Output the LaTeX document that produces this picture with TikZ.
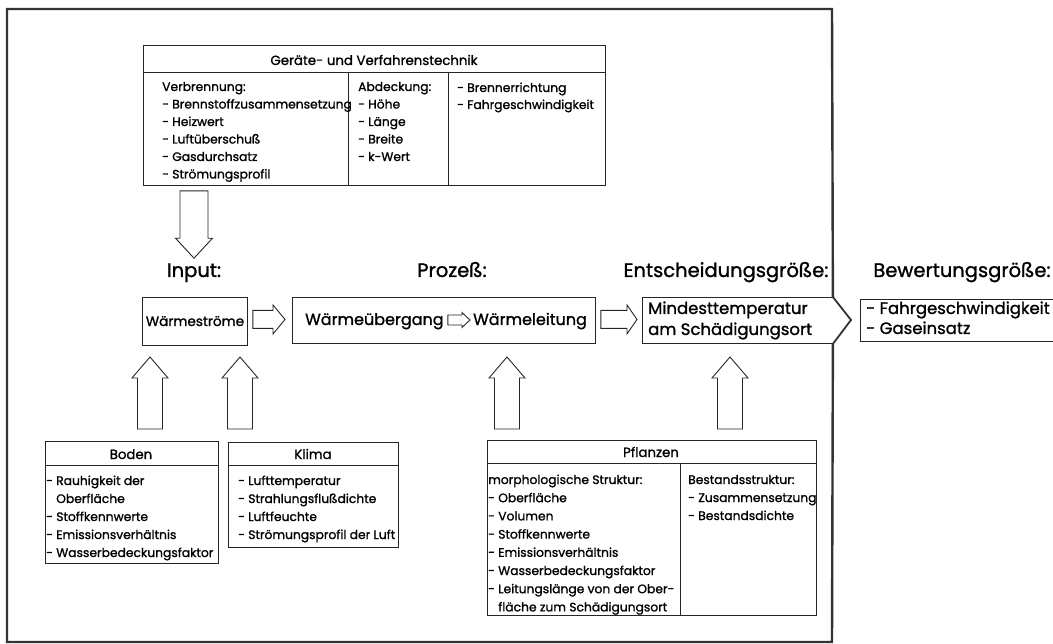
\documentclass[tikz,border=0pt]{standalone}
\usepackage{fontspec}
\setmainfont{Poppins}[FakeBold=1.2]
\usetikzlibrary{calc}

% hollow block arrow: tail, tip, shaft half-width, head half-width, head length
\newcommand\blockarrow[5]{%
  \coordinate (ba-h) at ($(#2)!#5!(#1)$);
  \draw[fatline] ($(#1)!#3!90:(#2)$) -- ($(ba-h)!#3!-90:(#1)$)
    -- ($(ba-h)!#4!-90:(#1)$) -- (#2) -- ($(ba-h)!#4!90:(#1)$)
    -- ($(ba-h)!#3!90:(#1)$) -- ($(#1)!#3!-90:(#2)$) -- cycle;}

\begin{document}
\begin{tikzpicture}[x=1pt,y=-1pt,
  thinline/.style={line width=0.9pt, draw=black!85},
  fatline/.style={line width=0.9pt, draw=black!85, line join=miter},
  cell/.style={thinline, rectangle, inner sep=0pt, anchor=north west},
  item/.style={anchor=base west, inner sep=0pt, font=\fontsize{12.3}{15}\selectfont},
  head/.style={anchor=base, inner sep=0pt, font=\fontsize{13.3}{16}\selectfont},
  stage/.style={anchor=base, inner sep=0pt, font=\fontsize{19.5}{22}\selectfont},
  rowtext/.style={anchor=base west, inner sep=0pt, font=\fontsize{16}{18}\selectfont},
  bigrow/.style={anchor=base west, inner sep=0pt, font=\fontsize{16.5}{20}\selectfont},
  frame/.style={line width=2.4pt, draw=black!80},
]
\useasboundingbox (0,0) rectangle (1053,644);
\clip (0,0) rectangle (1053,644);

% ---- decision box, whose pointed end is part of the outer frame
\node[cell, draw=none, minimum width=190pt, minimum height=46pt] (mindest) at (642,297) {};
\coordinate (mtip) at (851,320);
\draw[thinline] (mindest.north east) -- (mindest.north west) -- (mindest.south west) -- (mindest.south east);
\draw[frame, line width=1.8pt, line join=miter] (mindest.north east) -- (mtip) -- (mindest.south east);
\draw[frame] (mindest.north east) -- (832,9) -- (7,9) -- (7,642) -- (832,642) -- (mindest.south east);
\node[bigrow] (mindest-1) at (648,314) {Mindesttemperatur};
\node[bigrow] (mindest-2) at (648,335) {am Schädigungsort};

% ---- equipment and procedure table
\node[cell, minimum width=462pt, minimum height=27pt] (gtitle) at (143,45) {};
\node[cell, minimum width=205pt, minimum height=113pt] (g1) at (143,72) {};
\node[cell, minimum width=100pt, minimum height=113pt] (g2) at (348,72) {};
\node[cell, minimum width=157pt, minimum height=113pt] (g3) at (448,72) {};
\node[head] (gtitle-t) at (374,65) {Geräte- und Verfahrenstechnik};
\foreach \t [count=\i] in {Verbrennung:, - Brennstoffzusammensetzung, - Heizwert,
    - Luftüberschuß, - Gasdurchsatz, - Strömungsprofil}
  \node[item] (g1-\i) at (162,{91+17.5*(\i-1)}) {\t};
\foreach \t [count=\i] in {Abdeckung:, - Höhe, - Länge, - Breite, - k-Wert}
  \node[item] (g2-\i) at (358,{91+17.5*(\i-1)}) {\t};
\foreach \t [count=\i] in {- Brennerrichtung, - Fahrgeschwindigkeit}
  \node[item] (g3-\i) at (457,{92+17*(\i-1)}) {\t};

% ---- stage headings
\node[stage] (input) at (194,277) {Input:};
\node[stage] (prozess-h) at (452,277) {Prozeß:};
\node[stage] (entsch) at (726,277) {Entscheidungsgröße:};
\node[stage] (bewert) at (962,277) {Bewertungsgröße:};

% ---- main row
\node[cell, minimum width=105pt, minimum height=48pt] (waerme) at (142,297) {};
\node[anchor=base, inner sep=0pt, font=\fontsize{13.6}{16}\selectfont] (waerme-t) at (195,326) {Wärmeströme};
\node[cell, minimum width=303pt, minimum height=46pt] (prozess) at (292,297) {};
\node[rowtext] (ueberg) at (305,325) {Wärmeübergang};
\node[rowtext] (leitung) at (473,325) {Wärmeleitung};
\node[cell, minimum width=220pt, minimum height=42pt] (bewbox) at (860,299) {};
\node[bigrow] (bew-1) at (866,314) {- Fahrgeschwindigkeit};
\node[bigrow] (bew-2) at (866,334) {- Gaseinsatz};

% ---- block arrows of the main row
\coordinate (a1-tail) at ($(waerme.east)+(5,-2)$);
\coordinate (a1-tip) at ($(prozess.west)+(-7,-1)$);
\blockarrow{a1-tail}{a1-tip}{9pt}{14.5pt}{12pt}
\coordinate (a2-tail) at ($(prozess.east)+(5,-1)$);
\coordinate (a2-tip) at ($(mindest.west)+(-5,-1)$);
\blockarrow{a2-tail}{a2-tip}{9pt}{14.5pt}{10pt}
\coordinate (a3-tail) at ($(ueberg.base east)+(4,-5)$);
\coordinate (a3-tip) at ($(leitung.base west)+(-3,-5)$);
\blockarrow{a3-tail}{a3-tip}{5pt}{7.5pt}{8pt}
\coordinate (down-tail) at ($(g1.south west)+(51,5)$);
\coordinate (down-tip) at ($(input.north)+(0,-5)$);
\blockarrow{down-tail}{down-tip}{14pt}{18.5pt}{20pt}

% ---- soil table
\node[cell, minimum width=173pt, minimum height=24pt] (boden) at (45,441) {};
\node[cell, minimum width=173pt, minimum height=98pt] (boden-b) at (45,465) {};
\node[head] (boden-t) at (131,459) {Boden};
\foreach \t [count=\i] in {- Rauhigkeit der, \phantom{- }Oberfläche, - Stoffkennwerte,
    - Emissionsverhältnis, - Wasserbedeckungsfaktor}
  \node[item] (boden-\i) at (46,{485+18*(\i-1)}) {\t};

% ---- climate table
\node[cell, minimum width=170pt, minimum height=23pt] (klima) at (228,442) {};
\node[cell, minimum width=170pt, minimum height=82pt] (klima-b) at (228,465) {};
\node[head] (klima-t) at (313,459) {Klima};
\foreach \t [count=\i] in {- Lufttemperatur, - Strahlungsflußdichte, - Luftfeuchte,
    - Strömungsprofil der Luft}
  \node[item] (klima-\i) at (238,{485+18*(\i-1)}) {\t};

% ---- plant table
\node[cell, minimum width=329pt, minimum height=23pt] (pfl) at (487,440) {};
\node[cell, minimum width=193pt, minimum height=152pt] (pfl-l) at (487,463) {};
\node[cell, minimum width=136pt, minimum height=152pt] (pfl-r) at (680,463) {};
\node[head] (pfl-t) at (651,457) {Pflanzen};
\foreach \t [count=\i] in {morphologische Struktur:, - Oberfläche, - Volumen,
    - Stoffkennwerte, - Emissionsverhältnis, - Wasserbedeckungsfaktor,
    - Leitungslänge von der Ober-, \phantom{- }fläche zum Schädigungsort}
  \node[item] (pfl-l-\i) at (488,{484+18.2*(\i-1)}) {\t};
\foreach \t [count=\i] in {Bestandsstruktur:, - Zusammensetzung, - Bestandsdichte}
  \node[item] (pfl-r-\i) at (688,{484+18*(\i-1)}) {\t};

% ---- upward arrows into the main row
\foreach \x/\n in {150/boden, 240/klima, 507/pfl, 730/mind} {
  \coordinate (up-\n-tail) at (\x,429);
  \coordinate (up-\n-tip) at (\x,357);
  \blockarrow{up-\n-tail}{up-\n-tip}{12.5pt}{18pt}{21pt}
}
\end{tikzpicture}
\end{document}
